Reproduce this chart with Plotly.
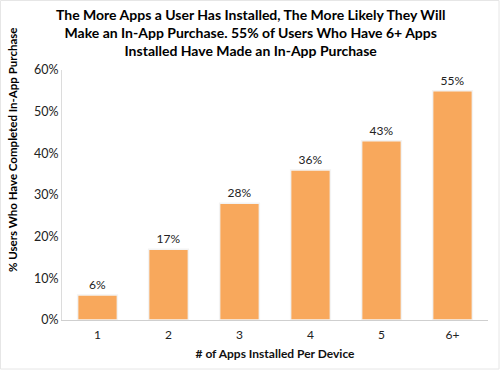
import plotly.graph_objects as go

categories = ["1", "2", "3", "4", "5", "6+"]
values = [6, 17, 28, 36, 43, 55]
value_labels = ["6%", "17%", "28%", "36%", "43%", "55%"]
y_ticks = [0, 10, 20, 30, 40, 50, 60]
y_tick_labels = ["0%", "10%", "20%", "30%", "40%", "50%", "60%"]

FONT = "Lato"
W, H = 500, 370
L, R, T, B = 62, 12, 70, 50
PW, PH = W - L - R, H - T - B


def px_x(x):
    return (x - L) / PW


def px_y(y):
    return (H - B - y) / PH


fig = go.Figure(go.Bar(
    x=categories, y=values,
    text=value_labels, textposition="outside",
    textfont=dict(family=FONT, size=12, color="#222"),
    marker=dict(color="#F8A85C", line=dict(color="#f3f3f3", width=1.5)),
    cliponaxis=False,
))

fig.update_layout(
    width=W, height=H,
    margin=dict(l=L, r=R, t=T, b=B),
    paper_bgcolor="white", plot_bgcolor="white",
    showlegend=False,
    bargap=0.44,
    font=dict(family=FONT, color="#222"),
    xaxis=dict(
        showline=True, linecolor="#cfcfcf", linewidth=1,
        ticks="", tickfont=dict(family=FONT, size=12, color="#222"),
        ticklabelstandoff=4,
        title=dict(text="<b># of Apps Installed Per Device</b>",
                   font=dict(family=FONT, size=12, color="#111"), standoff=8),
    ),
    yaxis=dict(
        range=[0, 60], tickvals=y_ticks, ticktext=y_tick_labels,
        showgrid=False, zeroline=False,
        showline=True, linecolor="#dcdcdc", linewidth=1,
        ticks="", tickfont=dict(family=FONT, size=12.5, color="#222"),
    ),
    annotations=[
        dict(
            text="<b>The More Apps a User Has Installed, The More Likely They Will<br>"
                 "Make an In-App Purchase. 55% of Users Who Have 6+ Apps<br>"
                 "Installed Have Made an In-App Purchase</b>",
            xref="paper", yref="paper", x=px_x(250), y=px_y(32),
            xanchor="center", yanchor="middle", showarrow=False,
            font=dict(family=FONT, size=14, color="#000"),
        ),
        dict(
            text="<b>% Users Who Have Completed In-App Purchase</b>",
            xref="paper", yref="paper", x=px_x(12), y=px_y(150),
            xanchor="center", yanchor="middle",
            textangle=-90, showarrow=False,
            font=dict(family=FONT, size=11.5, color="#000"),
        ),
    ],
    shapes=[dict(type="rect", xref="paper", yref="paper",
                 x0=px_x(0.5), x1=px_x(499), y0=px_y(369), y1=px_y(0.5),
                 line=dict(color="#e6e6e6", width=1))],
)

fig.write_html("out.html", config={"displayModeBar": False},
               post_script="document.body.style.margin='0';")
